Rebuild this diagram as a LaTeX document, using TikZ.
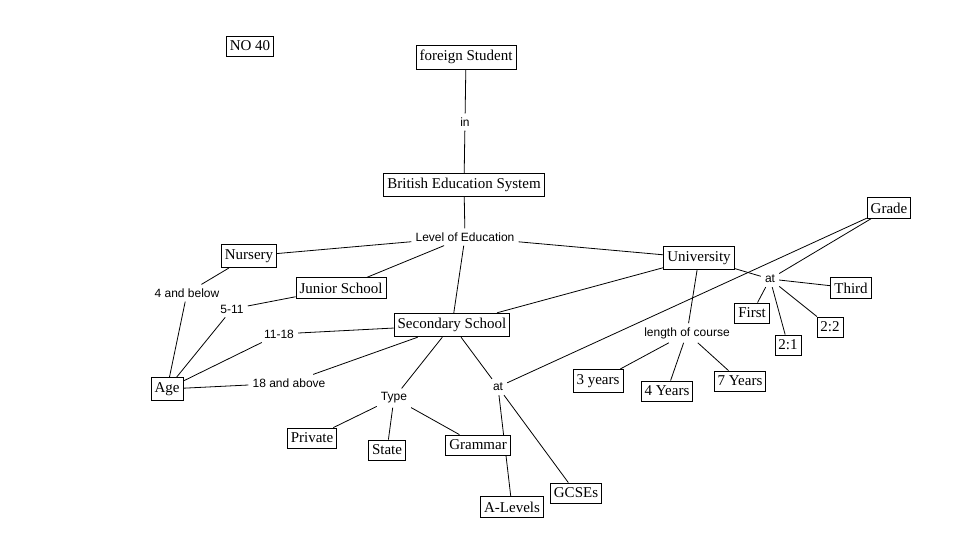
\documentclass[tikz,border=0pt]{standalone}
\usepackage{fontspec}
\setmainfont{Liberation Serif}
\setsansfont{Liberation Sans}
\usepackage{tikz}
\usetikzlibrary{positioning,backgrounds}

\begin{document}
\begin{tikzpicture}[
      x=1pt, y=-1pt,
      every node/.style={align=center},
      concept/.style={draw, fill=white, line width=0.8pt, inner xsep=3.5pt, inner ysep=5pt, font=\fontsize{15}{17}\selectfont},
      linkword/.style={inner sep=4pt, font=\sffamily\fontsize{12}{14}\selectfont},
      link/.style={line width=0.8pt, black}
    ]
      \useasboundingbox (0,0) rectangle (953,558);
      % Concepts
      \node[concept] (no) at (250,46) {NO 40};
      \node[concept] (student) at (466,57) {foreign Student};
      \node[concept] (bes) at (464,185) {British Education System};
      \node[concept] (nursery) at (249,256) {Nursery};
      \node[concept] (junior) at (341,288) {Junior School};
      \node[concept] (secondary) at (452,325) {Secondary School};
      \node[concept] (university) at (699,258) {University};
      \node[concept] (grade) at (889,208) {Grade};
      \node[concept] (age) at (167,389) {Age};
      \node[concept] (private) at (312,438) {Private};
      \node[concept] (state) at (387,450) {State};
      \node[concept] (grammar) at (478,445) {Grammar};
      \node[concept] (alevels) at (512,507) {A-Levels};
      \node[concept] (gcses) at (576,493) {GCSEs};
      \node[concept] (third) at (851,288) {Third};
      \node[concept] (first) at (752,313) {First};
      \node[concept] (twotwo) at (830,327) {2:2};
      \node[concept] (twoone) at (788,345) {2:1};
      \node[concept] (three) at (598,381) {3 years};
      \node[concept] (four) at (667,391) {4 Years};
      \node[concept] (seven) at (740,381) {7 Years};
      % Linking phrases
      \node[linkword] (in) at (465,122) {in};
      \node[linkword] (level) at (465,237) {Level of Education};
      \node[linkword] (below) at (187,293) {4 and below};
      \node[linkword] (fiveeleven) at (232,309) {5-11};
      \node[linkword] (eleveneighteen) at (279,334) {11-18};
      \node[linkword] (above) at (289,383) {18 and above};
      \node[linkword] (type) at (394,398) {Type};
      \node[linkword] (atsec) at (498,387) {at};
      \node[linkword] (atuni) at (770,279) {at};
      \node[linkword] (length) at (687,333) {length of course};
      % Connectors
      \begin{pgfonlayer}{background}
      \draw[link] (student) -- (in);
      \draw[link] (in) -- (bes);
      \draw[link] (bes) -- (level);
      \draw[link] (level) -- (nursery);
      \draw[link] (level) -- (junior);
      \draw[link] (level) -- (secondary);
      \draw[link] (level) -- (university);
      \draw[link] (nursery) -- (below);
      \draw[link] (below) -- (age);
      \draw[link] (junior) -- (fiveeleven);
      \draw[link] (fiveeleven) -- (age);
      \draw[link] (secondary) -- (eleveneighteen);
      \draw[link] (eleveneighteen) -- (age);
      \draw[link] (secondary) -- (above);
      \draw[link] (above) -- (age);
      \draw[link] (secondary) -- (type);
      \draw[link] (type) -- (private);
      \draw[link] (type) -- (state);
      \draw[link] (type) -- (grammar);
      \draw[link] (secondary) -- (atsec);
      \draw[link] (atsec) -- (alevels);
      \draw[link] (atsec) -- (gcses);
      \draw[link] (grade) -- (atsec);
      \draw[link] (university) -- (secondary);
      \draw[link] (university) -- (atuni);
      \draw[link] (grade) -- (atuni);
      \draw[link] (atuni) -- (first);
      \draw[link] (atuni) -- (third);
      \draw[link] (atuni) -- (twotwo);
      \draw[link] (atuni) -- (twoone);
      \draw[link] (university) -- (length);
      \draw[link] (length) -- (three);
      \draw[link] (length) -- (four);
      \draw[link] (length) -- (seven);
      \end{pgfonlayer}
    \end{tikzpicture}
\end{document}
